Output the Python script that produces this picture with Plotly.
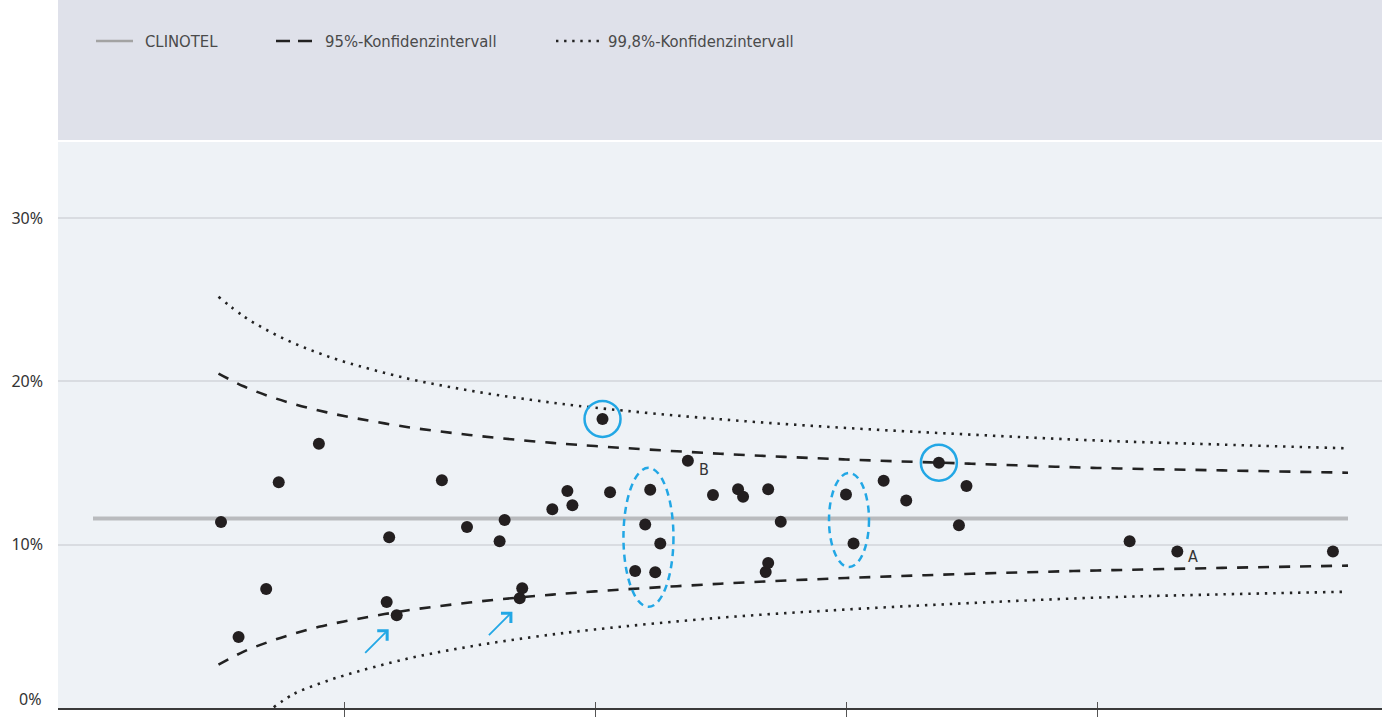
import plotly.graph_objects as go

# Fallzahl je Klinik und beobachtete Rate (%)
cases = [51, 58, 69, 74, 90, 117, 118, 121, 139, 149, 162, 164, 170, 171,
         183, 189, 191, 203, 206, 216, 220, 222, 224, 226, 237, 247, 257, 259,
         268, 269, 269, 274, 300, 303, 315, 324, 337, 345, 348, 413, 432, 494]
rates = [11.39, 4.35, 7.29, 13.82, 16.18, 6.49, 10.45, 5.68, 13.94, 11.08,
         10.21, 11.51, 6.72, 7.33, 12.17, 13.29, 12.41, 17.70, 13.21, 8.39,
         11.23, 13.37, 8.31, 10.08, 15.14, 13.04, 13.39, 12.94, 8.33, 13.39,
         8.88, 11.41, 13.08, 10.08, 13.92, 12.70, 15.02, 11.19, 13.59, 10.21,
         9.59, 9.59]

# Referenzwert CLINOTEL (%)
clinotel_cases = [0, 500]
clinotel_rate = [11.6, 11.6]

# Konfidenzgrenzen (%) über der Fallzahl
ci_cases = [50, 60, 70, 80, 90, 100, 125, 150, 175, 200, 250, 300, 350, 400, 450, 500]
ci95_upper = [20.48, 19.70, 19.10, 18.62, 18.22, 17.88, 17.21, 16.72, 16.34,
              16.04, 15.57, 15.22, 14.96, 14.70, 14.55, 14.41]
ci95_lower = [2.65, 3.45, 4.05, 4.55, 4.97, 5.30, 5.97, 6.46, 6.84, 7.14,
              7.61, 7.96, 8.22, 8.42, 8.58, 8.72]
ci998_upper = [25.18, 23.99, 23.08, 22.34, 21.73, 21.21, 20.19, 19.44, 18.86,
               18.39, 17.68, 17.15, 16.74, 16.38, 16.13, 15.90]
ci998_lower_cases = [72, 80, 90, 100, 125, 150, 175, 200, 250, 300, 350, 400, 450, 500]
ci998_lower = [0.05, 0.86, 1.48, 1.99, 3.01, 3.76, 4.34, 4.81, 5.53, 6.03,
               6.43, 6.76, 6.96, 7.12]

x_ticks = [100, 200, 300, 400]
y_ticks = [10, 20, 30]
y_tick_labels = ["10%", "20%", "30%"]
y_base_label = "0%"   # sitzt etwas über der Achsenlinie

legend_labels = ["CLINOTEL", "95%-Konfidenzintervall", "99,8%-Konfidenzintervall"]

# Markierungen
circled = [17, 36]                       # Kliniken mit Kreis
labeled = {24: "B", 40: "A"}             # beschriftete Kliniken
arrow_tips = [(117.8, 4.82), (167.1, 5.90)]
groups = [(221.3, 10.45, 50, 139), (301.2, 11.51, 40, 94)]  # Mitte x, y, Breite px, Höhe px

# Layout-Maße (Pixel)
W, H = 1387, 717
M_L, M_R, M_T, M_B = 58, 5, 142, 9
PLOT_W = W - M_L - M_R
PLOT_H = H - M_T - M_B

BLUE = "#22a7e5"
INK = "#231f20"
LEGEND_FONT = "DejaVu Sans Condensed, Liberation Sans Narrow, Arial Narrow, sans-serif"
TICK_FONT = dict(family="Noto Sans, Open Sans, sans-serif", size=16, color="#333333")


def px_x(px):
    return (px - M_L) / PLOT_W


def px_y(py):
    return (H - M_B - py) / PLOT_H


fig = go.Figure()

fig.add_trace(go.Scatter(x=clinotel_cases, y=clinotel_rate, mode="lines",
                         line=dict(color="#b9bbbe", width=4), hoverinfo="skip"))

for xs, ys, dash in [(ci_cases, ci95_upper, "11px,10px"),
                     (ci_cases, ci95_lower, "11px,10px"),
                     (ci_cases, ci998_upper, "2.4px,5.9px"),
                     (ci998_lower_cases, ci998_lower, "2.4px,5.9px")]:
    fig.add_trace(go.Scatter(x=xs, y=ys, mode="lines",
                             line=dict(color="#222222", width=2.6, dash=dash, shape="spline"),
                             hoverinfo="skip"))

fig.add_trace(go.Scatter(x=cases, y=rates, mode="markers",
                         marker=dict(color=INK, size=12)))

# leere Spur für die zweite x-Achse (Teilstriche nach innen)
fig.add_trace(go.Scatter(x=[], y=[], xaxis="x2", hoverinfo="skip"))

shapes = []
annotations = []

# Kopfband mit Legende
shapes.append(dict(type="rect", xref="paper", yref="paper", x0=0, x1=1,
                   y0=px_y(140), y1=px_y(0), fillcolor="#dfe1ea", line_width=0,
                   layer="below"))

leg_y = px_y(41)
shapes.append(dict(type="line", xref="paper", yref="paper", x0=px_x(96), x1=px_x(133),
                   y0=leg_y, y1=leg_y, line=dict(color="#a3a3a3", width=2.5)))
shapes.append(dict(type="line", xref="paper", yref="paper", x0=px_x(276), x1=px_x(316),
                   y0=leg_y, y1=leg_y, line=dict(color="#222222", width=2.6, dash="14px,8px")))
shapes.append(dict(type="line", xref="paper", yref="paper", x0=px_x(556), x1=px_x(601),
                   y0=leg_y, y1=leg_y, line=dict(color="#222222", width=2.4, dash="2.4px,5.7px")))
for text_px, label in zip([143, 323, 606], legend_labels):
    annotations.append(dict(text=label, xref="paper", yref="paper", x=px_x(text_px), y=leg_y,
                            xanchor="left", yanchor="middle", showarrow=False,
                            font=dict(family=LEGEND_FONT, size=16.5, color="#4a4a4a")))

# Beschriftung der Nulllinie
annotations.append(dict(text=y_base_label, xref="paper", yref="y", x=px_x(43), y=0,
                        xanchor="right", yanchor="middle", yshift=9, showarrow=False,
                        font=TICK_FONT))

# Kreise um einzelne Kliniken
for i in circled:
    shapes.append(dict(type="circle", xref="x", yref="y", xsizemode="pixel", ysizemode="pixel",
                       xanchor=cases[i], yanchor=rates[i], x0=-18, x1=18, y0=-18, y1=18,
                       line=dict(color=BLUE, width=2.5)))

# gestrichelte Ellipsen um Gruppen
for cx, cy, w, h in groups:
    shapes.append(dict(type="circle", xref="x", yref="y", xsizemode="pixel", ysizemode="pixel",
                       xanchor=cx, yanchor=cy, x0=-w / 2, x1=w / 2, y0=-h / 2, y1=h / 2,
                       line=dict(color=BLUE, width=2.5, dash="7px,5px")))

# Pfeile
for tx, ty in arrow_tips:
    annotations.append(dict(x=tx, y=ty, xref="x", yref="y", ax=-25, ay=25, text="",
                            showarrow=True, arrowhead=4, arrowsize=1.5, arrowwidth=1.8,
                            arrowcolor=BLUE))

# Buchstaben A / B
for i, letter in labeled.items():
    annotations.append(dict(x=cases[i], y=rates[i], xref="x", yref="y", text=letter,
                            showarrow=False, xshift=16, yshift=-9 if letter == "B" else -5,
                            font=dict(family=LEGEND_FONT, size=16, color="#333333")))

x_range = [(M_L - 93) / 2.51, (W - M_R - 93) / 2.51]

fig.update_layout(
    width=W, height=H,
    margin=dict(l=M_L, r=M_R, t=M_T, b=M_B, pad=0, autoexpand=False),
    paper_bgcolor="white", plot_bgcolor="#eef2f6",
    showlegend=False,
    shapes=shapes, annotations=annotations,
    xaxis=dict(range=x_range,
               tickvals=x_ticks, showticklabels=False, ticks="outside", ticklen=9,
               tickcolor="#555555", tickwidth=1, showgrid=False, zeroline=False,
               showline=True, linecolor="#3a3a3a", linewidth=2, fixedrange=True,
               automargin=False),
    xaxis2=dict(range=x_range, overlaying="x", anchor="y", side="bottom",
                tickvals=x_ticks, showticklabels=False, ticks="inside", ticklen=6,
                tickcolor="#555555", tickwidth=1, showgrid=False, zeroline=False,
                showline=False, fixedrange=True, automargin=False),
    yaxis=dict(range=[0, PLOT_H / 16.33], tickvals=y_ticks, ticktext=y_tick_labels,
               ticks="", showgrid=True, gridcolor="#d9dce1", gridwidth=1.5,
               zeroline=False, showline=False, ticklabelstandoff=14,
               tickfont=TICK_FONT, fixedrange=True, automargin=False),
)

fig.write_html("out.html")
